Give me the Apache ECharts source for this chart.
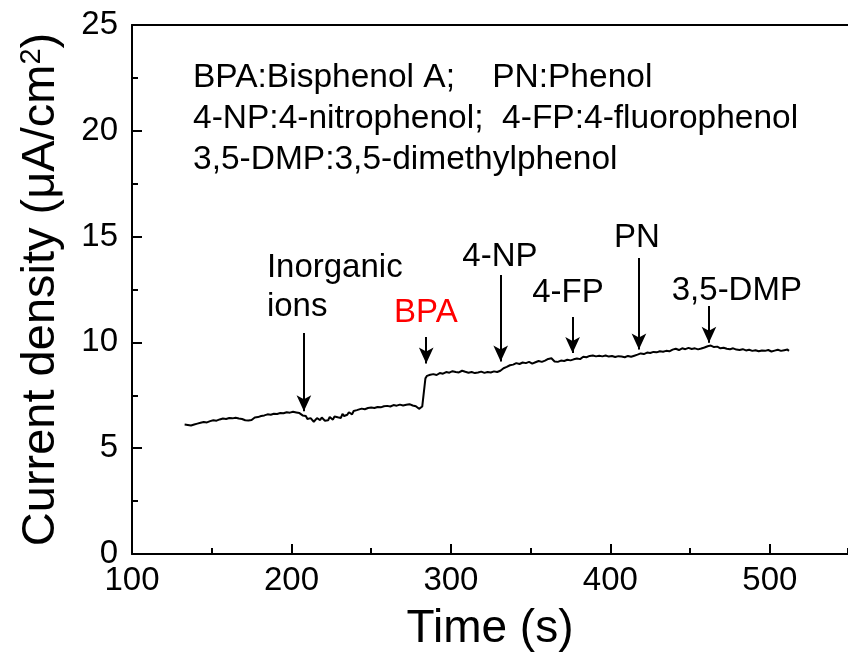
<!DOCTYPE html>
<html>
<head>
<meta charset="utf-8">
<script src="https://cdn.jsdelivr.net/npm/echarts@6/dist/echarts.min.js"></script>
<style>html,body{margin:0;padding:0;background:#fff}#c{width:848px;height:657px}</style>
</head>
<body>
<div id="c"></div>
<script>
// Time (s) and current density (uA/cm2)
const timeS = [133,135,137,139,141,143,145,147,149,151,153,155,157,159,161,163,165,167,169,171,173,175,177,179,181,183,185,187,189,191,193,195,197,199,201,203,205,206,207,208,209,210,211,212,213,214,215,216,217,218,219,220,221,222,223,224,225,226,227,228,229,230,231,232,233,234,235,236,237,238,239,240,241,242,244,246,248,250,252,254,256,258,260,262,264,266,268,270,272,274,276,278,279,280,281,282,283,284,
  285,287,289,291,293,295,297,299,301,303,305,307,309,311,313,315,317,319,321,323,325,327,329,331,333,335,337,339,341,343,345,347,349,351,353,355,357,359,361,363,365,367,369,371,373,375,377,379,381,383,385,387,389,391,393,395,397,399,401,403,405,407,409,411,413,415,417,419,421,423,425,427,429,431,433,435,437,439,441,443,445,447,449,451,453,455,457,459,461,463,465,467,469,471,473,475,477,479,481,483,485,487,489,491,493,495,497,499,501,503,505,507,509,511,512];
const current = [6.12,6.1,6.07,6.12,6.16,6.2,6.24,6.22,6.28,6.32,6.3,6.36,6.4,6.38,6.43,6.41,6.44,6.4,6.38,6.32,6.31,6.33,6.45,6.47,6.52,6.55,6.6,6.58,6.63,6.62,6.66,6.65,6.7,6.68,6.72,6.69,6.66,6.62,6.55,6.48,6.52,6.38,6.33,6.42,6.36,6.25,6.3,6.42,6.35,6.33,6.45,6.38,6.3,6.22,6.32,6.48,6.42,6.35,6.5,6.55,6.46,6.5,6.43,6.62,6.52,6.45,6.58,6.7,6.62,6.6,6.76,6.72,6.8,6.85,6.87,6.84,6.9,6.92,6.9,6.95,6.93,6.98,7.0,6.97,7.04,7.01,7.06,7.02,7.05,7.08,7.02,6.98,6.9,6.86,6.9,6.97,7.0,8.3,
  8.42,8.47,8.5,8.46,8.55,8.52,8.6,8.57,8.64,8.6,8.58,8.66,8.61,8.57,8.6,8.55,8.58,8.62,8.56,8.6,8.58,8.63,8.6,8.66,8.78,8.84,8.92,8.95,9.02,8.98,9.05,9.02,9.08,9.0,9.06,9.12,9.08,9.14,9.22,9.25,9.1,9.08,9.14,9.12,9.18,9.15,9.2,9.24,9.21,9.32,9.3,9.36,9.38,9.34,9.37,9.34,9.38,9.33,9.36,9.31,9.35,9.33,9.3,9.36,9.32,9.37,9.42,9.48,9.45,9.52,9.5,9.55,9.53,9.58,9.56,9.6,9.58,9.66,9.7,9.64,9.72,9.68,9.74,9.69,9.72,9.67,9.71,9.76,9.82,9.85,9.78,9.8,9.72,9.75,9.7,9.68,9.72,9.66,9.64,9.68,9.62,9.65,9.6,9.63,9.58,9.62,9.6,9.64,9.57,9.61,9.65,9.6,9.63,9.66,9.6,9.64,9.69,9.62,9.66,9.58,9.52];

// Arrow annotations: x, top y, tip y
const arrowX    = [207.8, 284.5, 331.2, 376.3, 417.9, 461.8];
const arrowTop  = [10.44, 10.26, 13.19, 11.2, 13.99, 11.72];
const arrowTip  = [6.75, 9.0, 9.1, 9.5, 9.66, 9.98];

// Arrow labels
const labelText  = ['Inorganic', 'ions', 'BPA', '4-NP', '4-FP', 'PN', '3,5-DMP'];
const labelX     = [184.6, 184.6, 284.3, 330.7, 373.4, 416.6, 479.3];
const labelY     = [13.52, 11.67, 11.39, 14.04, 12.33, 14.93, 12.43];
const labelAlign = ['left', 'left', 'center', 'center', 'center', 'center', 'center'];
const labelColor = ['#000', '#000', '#ff0000', '#000', '#000', '#000', '#000'];

const noteLines = ['BPA:Bisphenol A;    PN:Phenol', '4-NP:4-nitrophenol;  4-FP:4-fluorophenol', '3,5-DMP:3,5-dimethylphenol'];

const xTicks = [100, 200, 300, 400, 500];
const yTicks = [0, 5, 10, 15, 20, 25];

const FONT = 'Arial, "Liberation Sans", sans-serif';
const chart = echarts.init(document.getElementById('c'), null, {renderer: 'canvas'});

const lineData = timeS.map((t, i) => [t, current[i]]);
const markLines = arrowX.map((x, i) => [{coord: [x, arrowTop[i]]}, {coord: [x, arrowTip[i]]}]);
const labelData = labelText.map((s, i) => ({
  value: [labelX[i], labelY[i]], name: s,
  label: {show: true, position: 'inside', formatter: s, align: labelAlign[i], verticalAlign: 'middle',
    color: labelColor[i], fontSize: 33, fontFamily: FONT}
}));

const XMAX = 549;

chart.setOption({
  animation: false,
  backgroundColor: '#fff',
  grid: {left: 132, top: 25, bottom: 103, right: 0},
  xAxis: [{
    type: 'value', min: 100, max: XMAX, interval: 100,
    name: 'Time (s)', nameLocation: 'middle', nameGap: 52,
    nameTextStyle: {fontSize: 46, fontFamily: FONT, color: '#000'},
    axisLine: {show: true, onZero: false, lineStyle: {color: '#000', width: 2}},
    axisTick: {show: true, inside: true, length: 10, lineStyle: {color: '#000', width: 2}},
    axisLabel: {fontSize: 33, fontFamily: FONT, color: '#000', margin: 10, showMaxLabel: false,
      formatter: v => xTicks.indexOf(v) >= 0 ? String(v) : ''},
    splitLine: {show: false}
  }, {
    type: 'value', min: 100, max: XMAX, interval: 50, position: 'bottom',
    axisLine: {show: false}, axisLabel: {show: false}, splitLine: {show: false},
    axisTick: {show: true, inside: true, length: 6, lineStyle: {color: '#000', width: 2}}
  }, {
    type: 'value', min: 100, max: XMAX, position: 'top',
    axisLine: {show: true, onZero: false, lineStyle: {color: '#000', width: 2}},
    axisTick: {show: false}, axisLabel: {show: false}, splitLine: {show: false}
  }],
  yAxis: [{
    type: 'value', min: 0, max: 25, interval: 5,
    name: 'Current density (\u03bcA/cm{sup|2})', nameLocation: 'middle', nameGap: 66,
    nameTextStyle: {fontSize: 47, fontFamily: FONT, color: '#000',
      rich: {sup: {fontSize: 29, fontFamily: FONT, color: '#000', verticalAlign: 'top', padding: [0, 0, 20, 0]}}},
    axisLine: {show: true, onZero: false, lineStyle: {color: '#000', width: 2}},
    axisTick: {show: true, inside: true, length: 10, lineStyle: {color: '#000', width: 2}},
    minorTick: {show: true, splitNumber: 2, length: 6, lineStyle: {color: '#000', width: 2}},
    axisLabel: {fontSize: 33, fontFamily: FONT, color: '#000', margin: 14,
      formatter: v => yTicks.indexOf(v) >= 0 ? String(v) : ''},
    splitLine: {show: false}
  }],
  graphic: noteLines.map((s, i) => ({
    type: 'text', left: 193, top: 61 + i * 41, silent: true,
    style: {text: s, font: '33.5px ' + FONT, fill: '#000'}
  })),
  series: [{
    type: 'line', data: lineData, showSymbol: false, symbol: 'none', smooth: false,
    lineStyle: {color: '#000', width: 2}, z: 3,
    markLine: {
      silent: true, symbol: ['none', 'arrow'], symbolSize: [11, 16],
      lineStyle: {color: '#000', width: 2, type: 'solid'}, label: {show: false},
      data: markLines, animation: false
    }
  }, {
    type: 'scatter', data: labelData, symbolSize: 0, silent: true, z: 4,
    itemStyle: {opacity: 1},
    label: {show: true, color: '#000', opacity: 1}
  }]
});
</script>
</body>
</html>
